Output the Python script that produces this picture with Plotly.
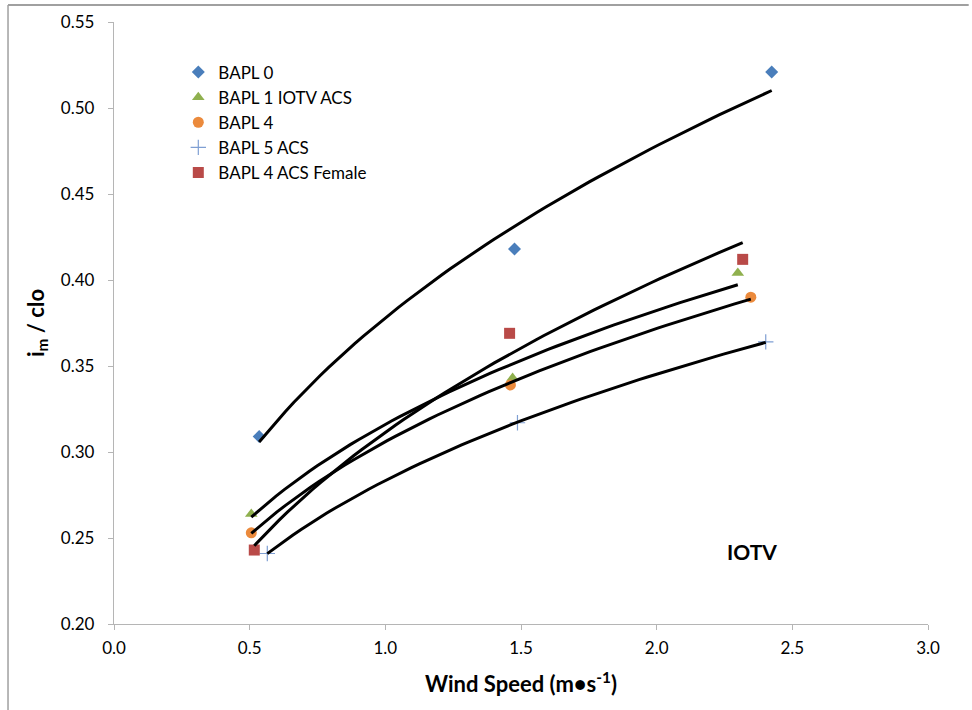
import numpy as np
import plotly.graph_objects as go

# ---- data ----
series_names = ["BAPL 0", "BAPL 1 IOTV ACS", "BAPL 4", "BAPL 5 ACS", "BAPL 4 ACS Female"]

bapl0_x = [0.535, 1.476, 2.424]
bapl0_y = [0.309, 0.418, 0.521]

bapl1_x = [0.506, 1.469, 2.299]
bapl1_y = [0.264, 0.343, 0.404]

bapl4_x = [0.506, 1.461, 2.347]
bapl4_y = [0.253, 0.339, 0.390]

bapl5_x = [0.565, 1.487, 2.402]
bapl5_y = [0.241, 0.317, 0.364]

bapl4f_x = [0.517, 1.458, 2.317]
bapl4f_y = [0.243, 0.369, 0.412]

x_ticks = [0.0, 0.5, 1.0, 1.5, 2.0, 2.5, 3.0]
y_ticks = [0.20, 0.25, 0.30, 0.35, 0.40, 0.45, 0.50, 0.55]

colors = ["#4A7EBB", "#8FB04E", "#EB8A3C", "#7F9FD3", "#B94A48"]
symbols = ["diamond", "triangle-up", "circle", "cross-thin", "square"]
sizes = [10, 11, 11, 11, 11]

xs = [bapl0_x, bapl1_x, bapl4_x, bapl5_x, bapl4f_x]
ys = [bapl0_y, bapl1_y, bapl4_y, bapl5_y, bapl4f_y]

fig = go.Figure()

for name, x, y, c, s, sz in zip(series_names, xs, ys, colors, symbols, sizes):
    marker = dict(color=c, symbol=s, size=sz)
    if s == "cross-thin":
        marker["line"] = dict(color=c, width=1.2)
    else:
        marker["line"] = dict(width=0)
    fig.add_trace(go.Scatter(x=x, y=y, mode="markers", name=name, marker=marker))

# power trendlines (least-squares fit ln y = b*ln x + ln a), as in the source chart
for x, y in zip(xs, ys):
    b, lna = np.polyfit(np.log(x), np.log(y), 1)
    xx = np.linspace(min(x), max(x), 60)
    fig.add_trace(go.Scatter(x=xx, y=np.exp(lna) * xx ** b, mode="lines",
                             line=dict(color="black", width=3),
                             showlegend=False, hoverinfo="skip"))

fig.add_annotation(x=2.35, y=0.242, text="<b>IOTV</b>", showarrow=False,
                   font=dict(family="Lato", size=21, color="black"),
                   xref="x", yref="y")

# chart-area border (left and top edges visible)
border = "#a0a0a0"
fig.add_shape(type="line", xref="paper", yref="paper",
              x0=-0.1302, x1=-0.1302, y0=-0.3, y1=1.0282,
              line=dict(color=border, width=1.5))
fig.add_shape(type="line", xref="paper", yref="paper",
              x0=-0.1302, x1=1.05, y0=1.0282, y1=1.0282,
              line=dict(color=border, width=2))

axis_color = "#b5b5b5"
fig.update_xaxes(range=[0, 3], tickvals=x_ticks, tickformat=".1f",
                 showgrid=False, zeroline=False, showline=True,
                 linecolor=axis_color, linewidth=1.3,
                 ticks="outside", ticklen=5, tickcolor=axis_color, tickwidth=1.3,
                 tickfont=dict(family="Lato", size=17, color="black"),
                 ticklabelstandoff=3, automargin=False,
                 title=dict(text="<b>Wind Speed (m•s<sup>-1</sup>)</b>",
                            font=dict(family="Lato", size=22, color="black"),
                            standoff=20))
fig.update_yaxes(range=[0.2, 0.55], tickvals=y_ticks, tickformat=".2f",
                 showgrid=False, zeroline=False, showline=True,
                 linecolor=axis_color, linewidth=1.3,
                 ticks="outside", ticklen=5, tickcolor=axis_color, tickwidth=1.3,
                 tickfont=dict(family="Lato", size=17, color="black"),
                 ticklabelstandoff=10, automargin=False,
                 title=dict(text="<b>i<sub>m</sub> / clo</b>",
                            font=dict(family="Lato", size=22, color="black"),
                            standoff=10))

fig.update_layout(
    width=972, height=710,
    margin=dict(l=114, r=44, t=22, b=86),
    plot_bgcolor="white", paper_bgcolor="white",
    legend=dict(x=0.079, y=0.946, xanchor="left", yanchor="top",
                font=dict(family="Lato", size=17, color="black"),
                bgcolor="rgba(0,0,0,0)", tracegroupgap=0, itemwidth=30),
    font=dict(family="Lato"),
)

fig.write_html("out.html", config={"displayModeBar": False},
               post_script="document.body.style.margin='0';")
